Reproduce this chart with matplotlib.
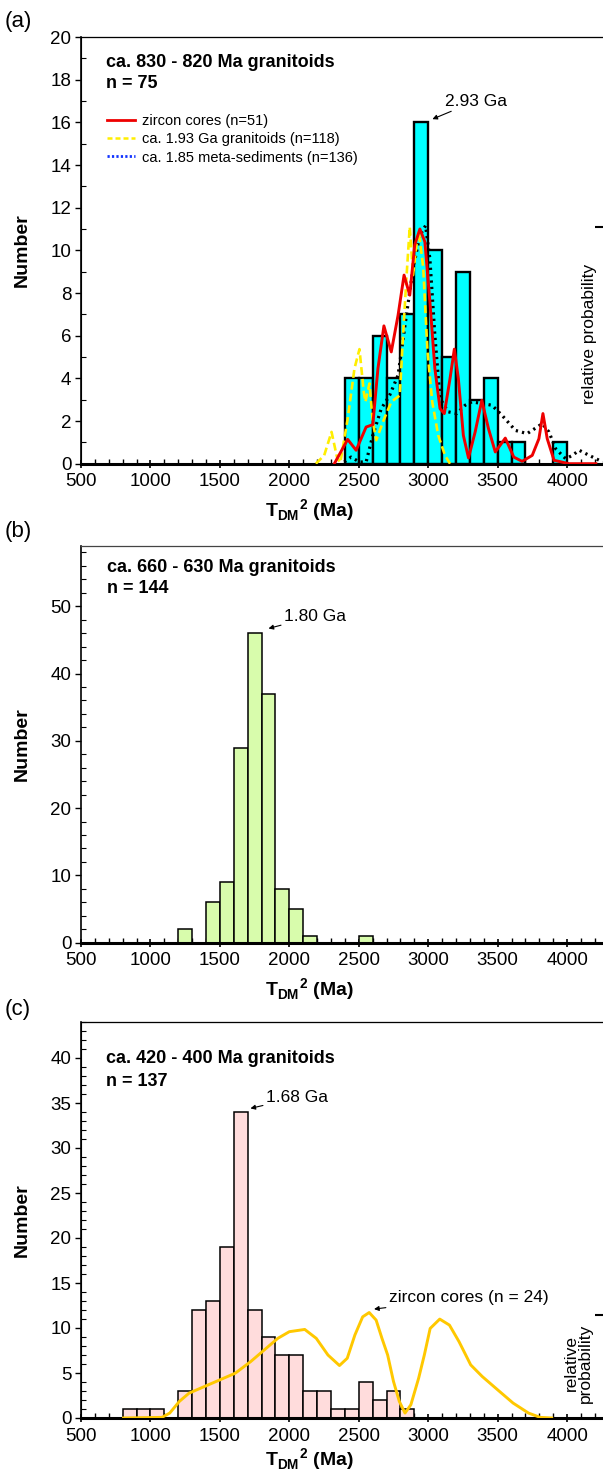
import matplotlib
matplotlib.use("Agg")
import matplotlib.pyplot as plt
from matplotlib.lines import Line2D
from matplotlib.ticker import MultipleLocator

plt.rcParams['font.family'] = ['Liberation Sans', 'DejaVu Sans']
plt.rcParams['mathtext.fontset'] = 'custom'
plt.rcParams['mathtext.rm'] = 'Liberation Sans'
plt.rcParams['mathtext.bf'] = 'Liberation Sans:bold'

# histogram bins (Ma, left edge, width 100) and counts
bins_a = [2400, 2500, 2600, 2700, 2800, 2900, 3000, 3100, 3200, 3300, 3400, 3500, 3600, 3900]
counts_a = [4, 4, 6, 4, 7, 16, 10, 5, 9, 3, 4, 1, 1, 1]

bins_b = [1200, 1400, 1500, 1600, 1700, 1800, 1900, 2000, 2100, 2500]
counts_b = [2, 6, 9, 29, 46, 37, 8, 5, 1, 1]

bins_c = [800, 900, 1000, 1200, 1300, 1400, 1500, 1600, 1700, 1800, 1900, 2000,
          2100, 2200, 2300, 2400, 2500, 2600, 2700, 2800]
counts_c = [1, 1, 1, 3, 12, 13, 19, 34, 12, 9, 7, 7, 3, 3, 1, 1, 4, 2, 3, 1]

# probability curves (x in Ma, y in plot units)
red_x = [2324, 2420, 2481, 2553, 2601, 2638, 2681, 2734, 2783, 2826, 2867, 2903, 2940,
         2976, 3012, 3048, 3085, 3116, 3157, 3188, 3217, 3253, 3290, 3338, 3386, 3434,
         3483, 3555, 3616, 3676, 3749, 3797, 3826, 3857, 3906, 4014, 4207]
red_y = [0, 1.14, 0.63, 1.72, 1.83, 4.46, 6.46, 5.24, 6.96, 8.84, 7.9, 10.25, 11.0,
         10.4, 7.6, 4.46, 2.58, 2.35, 3.99, 5.37, 3.99, 1.33, 0.27, 1.49, 2.97, 1.64,
         0.55, 1.2, 0.31, 0.11, 0.39, 1.17, 2.35, 1.17, 0.16, 0, 0]

yel_x = [2191, 2251, 2304, 2343, 2367, 2420, 2469, 2505, 2536, 2548, 2577, 2601, 2626,
         2674, 2734, 2795, 2819, 2843, 2867, 2891, 2915, 2932, 2964, 2995, 3029, 3072,
         3121, 3157]
yel_y = [0, 0.39, 1.49, 0.31, 0.05, 2.1, 4.46, 5.37, 3.36, 2.9, 3.76, 1.96, 1.1,
         1.96, 2.9, 3.2, 6.02, 8.69, 11.1, 8.84, 10.25, 10.9, 9.2, 5.24, 2.9, 1.33,
         0.39, 0]

dot_x = [2396, 2444, 2505, 2553, 2601, 2662, 2722, 2783, 2843, 2891, 2940, 2981, 3012,
         3048, 3085, 3145, 3205, 3266, 3314, 3386, 3459, 3531, 3628, 3712, 3785, 3821,
         3869, 3918, 3990, 4038, 4087, 4159, 4256]
dot_y = [0.08, 0.31, 0.08, 0.08, 1.33, 2.58, 3.2, 4.15, 6.96, 9.15, 10.7, 11.16, 9.6,
         6.0, 3.05, 2.43, 2.35, 2.74, 2.9, 2.82, 2.74, 2.27, 1.56, 1.41, 1.72, 1.88,
         1.49, 0.7, 0.23, 0.39, 0.63, 0.39, 0.08]

gold_x = [806, 1083, 1139, 1208, 1278, 1389, 1500, 1611, 1722, 1833, 1917, 2000, 2111,
          2194, 2278, 2361, 2417, 2472, 2528, 2575, 2625, 2667, 2708, 2750, 2792, 2833,
          2875, 2931, 2972, 3014, 3083, 3153, 3222, 3306, 3389, 3500, 3611, 3722, 3806,
          3889]
gold_y = [0, 0.07, 0.55, 1.84, 2.76, 3.5, 4.24, 4.98, 6.27, 7.74, 8.85, 9.59, 9.84,
          8.85, 7.0, 5.83, 6.64, 9.22, 11.24, 11.72, 10.88, 8.85, 7.0, 4.06, 1.84, 0.55,
          1.47, 4.42, 7.0, 9.95, 10.99, 10.32, 8.48, 5.9, 4.61, 3.13, 1.66, 0.55, 0.07, 0]

W, H = 603, 1474
fig = plt.figure(figsize=(W / 100, H / 100), dpi=100)

LEFT = 81
RIGHT = 604.6


def make_axes(top_px, bottom_px):
    return fig.add_axes([LEFT / W, (H - bottom_px) / H, (RIGHT - LEFT) / W,
                         (bottom_px - top_px) / H])


def style(ax, ymax, ymin, ylab, xlab_off=47):
    ax.set_xlim(500, 4270)
    ax.set_ylim(0, ymax)
    ax.xaxis.set_major_locator(MultipleLocator(500))
    ax.xaxis.set_minor_locator(MultipleLocator(100))
    ax.set_yticks(ylab)
    ax.yaxis.set_minor_locator(MultipleLocator(ymin))
    ax.tick_params(axis='x', which='major', direction='inout', length=6, width=1.2,
                   labelsize=13.5, pad=4)
    ax.tick_params(axis='x', which='minor', direction='in', length=3.5, width=1.0)
    ax.tick_params(axis='y', which='major', direction='out', length=4, width=1.0,
                   labelsize=13.5, pad=3)
    ax.tick_params(axis='y', which='minor', direction='in', length=3.5, width=0.8)
    ax.tick_params(top=False, right=False)
    ax.spines['bottom'].set_linewidth(2.2)
    ax.spines['left'].set_linewidth(1.2)
    ax.spines['top'].set_linewidth(0.9)
    ax.spines['top'].set_color('#444444')
    ax.set_xlabel(r'$\mathbf{T}_{\mathbf{DM}}{}^{\mathbf{2}}$ (Ma)', fontsize=14,
                  fontweight='bold')
    h = ax.get_position().height * H
    ax.xaxis.set_label_coords(0.437, -xlab_off / h)
    ax.xaxis.label.set_va('center')
    ax.set_ylabel('Number', fontsize=14, fontweight='bold')
    ax.yaxis.set_label_coords(-0.113, 0.5)
    ax.yaxis.label.set_va('center')


arrow = dict(arrowstyle='-|>', color='black', lw=0.8, mutation_scale=7,
             shrinkA=0, shrinkB=0)

# ---- (a)
ax1 = make_axes(37, 463.7)
ax1.bar(bins_a, counts_a, width=100, align='edge', color='#00FFFF',
        edgecolor='black', linewidth=1.7, zorder=2)
style(ax1, 20, 1, range(0, 21, 2))
ax1b = ax1.twinx()
ax1b.set_ylim(0, 20)
ax1b.plot(dot_x, dot_y, color='black', lw=2.3, ls=(0, (0.7, 1.3)), zorder=3)
ax1b.plot(yel_x, yel_y, color='#FFEE00', lw=1.9, ls=(0, (3, 1.5)), zorder=4)
ax1b.plot(red_x, red_y, color='#EE0000', lw=2.1, zorder=5)
ax1b.set_yticks([11.1])
ax1b.set_yticklabels([])
ax1b.tick_params(axis='y', direction='in', length=7, width=1.5)
ax1.text(0.048, 0.941, 'ca. 830 - 820 Ma granitoids', transform=ax1.transAxes,
         fontsize=13, fontweight='bold', va='center')
ax1.text(0.048, 0.892, 'n = 75', transform=ax1.transAxes,
         fontsize=13, fontweight='bold', va='center')
handles = [Line2D([], [], color='#EE0000', lw=2.0),
           Line2D([], [], color='#FFEE00', lw=1.8, ls=(0, (2, 1.2))),
           Line2D([], [], color='#1133FF', lw=2.0, ls=(0, (0.8, 0.8)))]
labels = ['zircon cores (n=51)', 'ca. 1.93 Ga granitoids (n=118)',
          'ca. 1.85 meta-sediments (n=136)']
ax1.legend(handles, labels, loc='upper left', bbox_to_anchor=(0.05, 0.82),
           frameon=False, fontsize=10.5, handlelength=1.9, handletextpad=0.5,
           labelspacing=0.3, borderpad=0, borderaxespad=0)
ax1.annotate('2.93 Ga', xy=(3030, 16.15), xytext=(3120, 17.0), fontsize=12.5,
             va='center', ha='left', arrowprops=arrow)
ax1.text(0.972, 0.304, 'relative probability', transform=ax1.transAxes, rotation=90,
         fontsize=12.5, ha='center', va='center')

# ---- (b)
ax2 = make_axes(545.7, 942.7)
ax2.bar(bins_b, counts_b, width=100, align='edge', color='#D8FCAC',
        edgecolor='black', linewidth=1.1, zorder=2)
style(ax2, 59, 2, range(0, 51, 10))
ax2.text(0.05, 0.946, 'ca. 660 - 630 Ma granitoids', transform=ax2.transAxes,
         fontsize=13, fontweight='bold', va='center')
ax2.text(0.05, 0.893, 'n = 144', transform=ax2.transAxes,
         fontsize=13, fontweight='bold', va='center')
ax2.annotate('1.80 Ga', xy=(1850, 46.7), xytext=(1960, 48.5), fontsize=12.5,
             va='center', ha='left', arrowprops=arrow)

# ---- (c)
ax3 = make_axes(1022, 1418)
ax3.bar(bins_c, counts_c, width=100, align='edge', color='#FFDCDC',
        edgecolor='black', linewidth=1.1, zorder=2)
style(ax3, 44, 1, range(0, 41, 5), xlab_off=42)
ax3b = ax3.twinx()
ax3b.set_ylim(0, 44)
ax3b.plot(gold_x, gold_y, color='#FFC800', lw=2.1, zorder=3)
ax3b.set_yticks([11.5])
ax3b.set_yticklabels([])
ax3b.tick_params(axis='y', direction='in', length=7, width=1.5)
ax3.text(0.048, 0.907, 'ca. 420 - 400 Ma granitoids', transform=ax3.transAxes,
         fontsize=13, fontweight='bold', va='center')
ax3.text(0.048, 0.851, 'n = 137', transform=ax3.transAxes,
         fontsize=13, fontweight='bold', va='center')
ax3.annotate('1.68 Ga', xy=(1720, 34.4), xytext=(1830, 35.6), fontsize=12.5,
             va='center', ha='left', arrowprops=arrow)
ax3.annotate('zircon cores (n = 24)', xy=(2610, 12.1), xytext=(2715, 13.4),
             fontsize=12.5, va='center', ha='left', arrowprops=arrow)
ax3.text(0.95, 0.139, 'relative\nprobability', transform=ax3.transAxes, rotation=90,
         fontsize=12.5, ha='center', va='center', linespacing=1.0)

# panel letters
for lab, ypx in [('(a)', 22), ('(b)', 532), ('(c)', 1010)]:
    fig.text(5 / W, (H - ypx) / H, lab, fontsize=16, va='center', ha='left')

fig.savefig('out.png', dpi=100)
